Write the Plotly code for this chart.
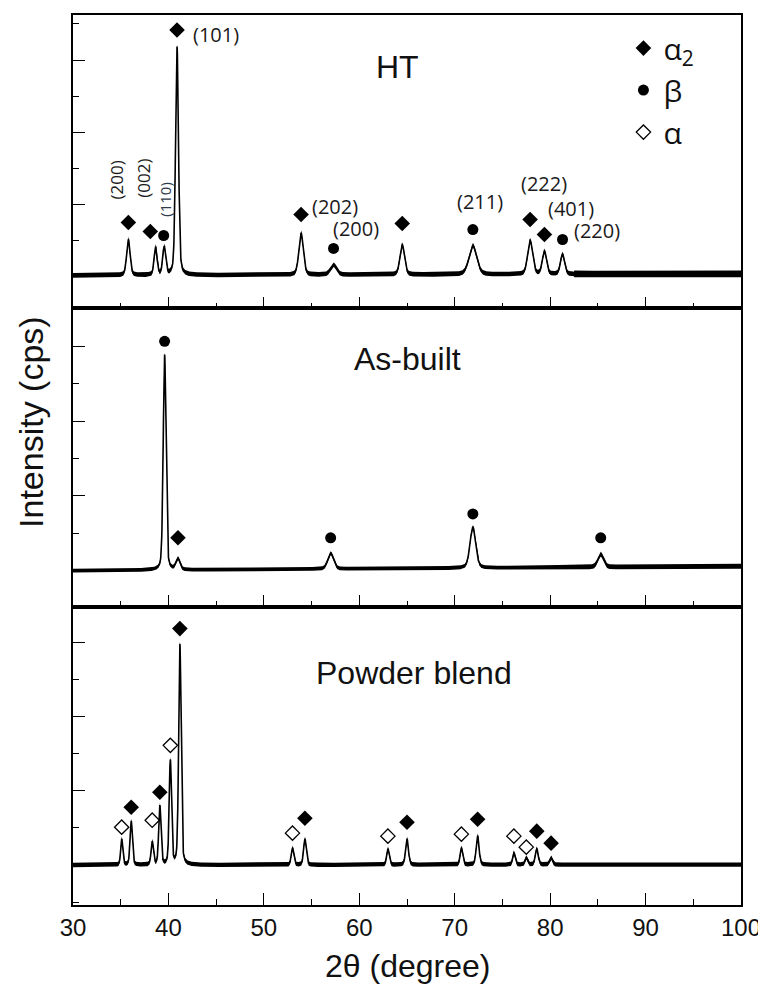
import numpy as np
import plotly.graph_objects as go

# ---------------- data ----------------
two_theta = np.round(np.arange(30.0, 100.0001, 0.02), 3)

# HT pattern: peak positions (2theta), heights above background (cps), FWHM (deg)
ht_peak_pos = [35.8, 38.65, 39.55, 40.9, 53.9, 57.3, 64.5, 71.9, 77.9, 79.4, 81.3]
ht_peak_height = [360, 280, 280, 2290, 420, 100, 300, 290, 340, 230, 200]
ht_peak_fwhm = [0.42, 0.35, 0.35, 0.36, 0.55, 0.75, 0.55, 0.95, 0.6, 0.5, 0.5]
ht_background = [330, 345]
ht_noise_edges = [82.5]
ht_noise_amp = [23, 34]

# As-built pattern
ab_peak_pos = [39.6, 41.0, 57.0, 71.9, 85.3]
ab_peak_height = [2160, 110, 160, 410, 130]
ab_peak_fwhm = [0.34, 0.5, 0.7, 0.7, 0.7]
ab_background = [360, 405]
ab_noise_edges = [75.0]
ab_noise_amp = [19, 24]

# Powder blend pattern
pb_peak_pos = [35.1, 36.1, 38.3, 39.1, 40.2, 41.2, 53.0, 54.3, 63.0, 65.0,
               70.7, 72.4, 76.2, 77.5, 78.6, 80.1]
pb_peak_height = [260, 440, 230, 590, 1040, 2210, 170, 260, 160, 260,
                  170, 290, 120, 70, 160, 70]
pb_peak_fwhm = [0.25, 0.28, 0.28, 0.28, 0.28, 0.3, 0.3, 0.32, 0.3, 0.35,
                0.3, 0.35, 0.3, 0.3, 0.35, 0.35]
pb_background = [400, 405]
pb_noise_edges = [100.0]
pb_noise_amp = [22, 22]

# phase markers (2theta, cps)
ht_alpha2_x = [35.8, 38.1, 40.9, 53.9, 64.5, 77.9, 79.4]
ht_alpha2_y = [860, 770, 2790, 940, 850, 890, 740]
ht_beta_x = [39.5, 57.3, 71.9, 81.3]
ht_beta_y = [730, 600, 790, 690]

ab_beta_x = [39.6, 57.0, 71.9, 85.3]
ab_beta_y = [2660, 690, 930, 690]
ab_alpha2_x = [41.0]
ab_alpha2_y = [690]

pb_alpha2_x = [36.1, 39.1, 41.2, 54.3, 65.0, 72.4, 78.6, 80.1]
pb_alpha2_y = [980, 1130, 2770, 870, 830, 860, 740, 620]
pb_alpha_x = [35.1, 38.3, 40.2, 53.0, 63.0, 70.7, 76.2, 77.5]
pb_alpha_y = [780, 850, 1600, 720, 690, 710, 690, 580]

# Miller index labels in HT panel: text, 2theta, cps, rotated
hkl_text = ["(200)", "(002)", "(110)", "(101)", "(202)", "(200)", "(211)", "(222)", "(401)", "(220)"]
hkl_x = [34.6, 37.35, 39.55, 45.0, 57.5, 59.7, 72.6, 79.4, 82.2, 84.9]
hkl_y = [1290, 1300, 1090, 2740, 1020, 800, 1070, 1250, 1000, 780]
hkl_rot = [True, True, True, False, False, False, False, False, False, False]

panel_names = ["HT", "As-built", "Powder blend"]
panel_label_x = [64.0, 65.05, 65.7]
panel_label_y = [2420, 2480, 2330]

x_tick_vals = [30, 40, 50, 60, 70, 80, 90, 100]


# ---------------- helpers ----------------
def pattern(x, pos, height, fwhm, bg, eta=0.3):
    y = bg[0] + (bg[1] - bg[0]) * (x - 30.0) / 70.0
    for p, h, w in zip(pos, height, fwhm):
        d = (x - p) / w
        g = np.exp(-4 * np.log(2) * d * d)
        lo = 1.0 / (1.0 + 4 * d * d)
        y = y + h * (eta * lo + (1 - eta) * g)
    return y


def noise_amp(x, edges, amps):
    idx = np.searchsorted(np.array(edges), x)
    return np.array(amps)[idx]


fig = go.Figure()

panels = [
    ("x3", "y3", ht_peak_pos, ht_peak_height, ht_peak_fwhm, ht_background, ht_noise_edges, ht_noise_amp),
    ("x2", "y2", ab_peak_pos, ab_peak_height, ab_peak_fwhm, ab_background, ab_noise_edges, ab_noise_amp),
    ("x", "y", pb_peak_pos, pb_peak_height, pb_peak_fwhm, pb_background, pb_noise_edges, pb_noise_amp),
]

for xa, ya, pos, hgt, fw, bg, ne, na in panels:
    yv = pattern(two_theta, pos, hgt, fw, bg)
    amp = noise_amp(two_theta, ne, na)
    fig.add_trace(go.Scatter(x=two_theta, y=yv - amp, mode="lines", line=dict(width=0, color="black"),
                             xaxis=xa, yaxis=ya, showlegend=False, hoverinfo="skip"))
    fig.add_trace(go.Scatter(x=two_theta, y=yv + amp, mode="lines", line=dict(width=0, color="black"),
                             fill="tonexty", fillcolor="black",
                             xaxis=xa, yaxis=ya, showlegend=False, hoverinfo="skip"))
    fig.add_trace(go.Scatter(x=two_theta, y=yv, mode="lines", line=dict(width=1.6, color="black"),
                             xaxis=xa, yaxis=ya, showlegend=False))

dia = dict(symbol="diamond", size=12, color="black")
circ = dict(symbol="circle", size=11, color="black")
odia = dict(symbol="diamond-open", size=11, color="black", line=dict(width=1.3, color="black"))

fig.add_trace(go.Scatter(x=ht_alpha2_x, y=ht_alpha2_y, mode="markers", marker=dia, name="α<sub>2</sub>",
                         xaxis="x3", yaxis="y3", showlegend=True))
fig.add_trace(go.Scatter(x=ht_beta_x, y=ht_beta_y, mode="markers", marker=circ, name="β",
                         xaxis="x3", yaxis="y3", showlegend=True))
fig.add_trace(go.Scatter(x=pb_alpha_x, y=pb_alpha_y, mode="markers", marker=odia, name="α",
                         xaxis="x", yaxis="y", showlegend=True))
fig.add_trace(go.Scatter(x=ab_beta_x, y=ab_beta_y, mode="markers", marker=circ,
                         xaxis="x2", yaxis="y2", showlegend=False))
fig.add_trace(go.Scatter(x=ab_alpha2_x, y=ab_alpha2_y, mode="markers", marker=dia,
                         xaxis="x2", yaxis="y2", showlegend=False))
fig.add_trace(go.Scatter(x=pb_alpha2_x, y=pb_alpha2_y, mode="markers", marker=dia,
                         xaxis="x", yaxis="y", showlegend=False))

# ---------------- axes ----------------
xcommon = dict(range=[30, 100], showline=True, linecolor="black", linewidth=1.6, mirror=True,
               ticks="inside", ticklen=12, tickwidth=1.4, tickcolor="black",
               tickvals=x_tick_vals,
               minor=dict(ticks="inside", ticklen=6, dtick=5, tick0=30, tickcolor="black", tickwidth=1.4),
               showgrid=False, zeroline=False)
ycommon = dict(showline=True, linecolor="black", linewidth=1.6, mirror=True,
               ticks="inside", ticklen=12, tickwidth=1.4, tickcolor="black",
               showticklabels=False, showgrid=False, zeroline=False)

fig.update_layout(
    xaxis=dict(**xcommon, anchor="y", showticklabels=True,
               ticktext=[str(v) for v in x_tick_vals],
               tickfont=dict(family="Liberation Sans, Arial", size=24, color="#111")),
    xaxis2=dict(**xcommon, anchor="y2", matches="x", showticklabels=False),
    xaxis3=dict(**xcommon, anchor="y3", matches="x", showticklabels=False),
    yaxis=dict(**ycommon, domain=[0, 0.3352], anchor="x", range=[0, 2990],
               tick0=400, dtick=745,
               minor=dict(ticks="inside", ticklen=6, tick0=400, dtick=372.5, tickcolor="black", tickwidth=1.4)),
    yaxis2=dict(**ycommon, domain=[0.3352, 0.6704], anchor="x2", range=[0, 2990],
                tick0=360, dtick=750,
                minor=dict(ticks="inside", ticklen=6, tick0=360, dtick=375, tickcolor="black", tickwidth=1.4)),
    yaxis3=dict(**ycommon, domain=[0.6704, 1.0], anchor="x3", range=[0, 2940],
                tick0=320, dtick=723,
                minor=dict(ticks="inside", ticklen=6, tick0=320, dtick=361.5, tickcolor="black", tickwidth=1.4)),
)

annotations = []
for t, xx, yy, rot in zip(hkl_text, hkl_x, hkl_y, hkl_rot):
    small = (t == "(110)")
    annotations.append(dict(
        text=t, x=xx, y=yy, xref="x3", yref="y3", showarrow=False,
        textangle=-90 if rot else 0,
        font=dict(family="Open Sans, Noto Sans", size=15 if small else (17 if rot else 20),
                  color="#2c3a4a" if small else "#1a1a1a"),
        xanchor="center", yanchor="middle"))

for name, xx, yy, ya in zip(panel_names, panel_label_x, panel_label_y, ["y3", "y2", "y"]):
    annotations.append(dict(
        text=name, x=xx, y=yy, xref="x" if ya == "y" else "x" + ya[1], yref=ya, showarrow=False,
        font=dict(family="Liberation Sans, Arial", size=32, color="#111"),
        xanchor="center", yanchor="middle"))

annotations.append(dict(text="2θ (degree)", x=0.5, y=-0.0684, xref="paper", yref="paper",
                        showarrow=False, xanchor="center", yanchor="middle",
                        font=dict(family="Liberation Sans, Arial", size=32, color="#111")))
annotations.append(dict(text="Intensity (cps)", x=-0.064, y=0.543, xref="paper", yref="paper",
                        showarrow=False, xanchor="center", yanchor="middle", textangle=-90,
                        font=dict(family="Liberation Sans, Arial", size=34, color="#111")))

# the page adds an 8 px body margin, so the figure is 8 px smaller on each axis
fig.update_layout(
    width=758, height=982,
    margin=dict(l=65, r=24, t=5, b=85),
    paper_bgcolor="white", plot_bgcolor="white",
    annotations=annotations,
    showlegend=True,
    legend=dict(x=0.824, y=0.992, xanchor="left", yanchor="top", traceorder="normal",
                font=dict(family="Open Sans, Noto Sans", size=30, color="#111"),
                bgcolor="rgba(0,0,0,0)", borderwidth=0, itemsizing="trace",
                tracegroupgap=0),
)

fig.write_html("out.html")
